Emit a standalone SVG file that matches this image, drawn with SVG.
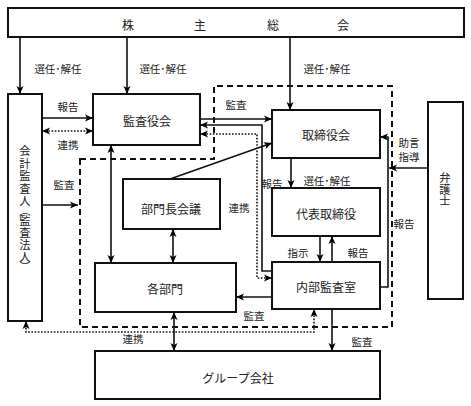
<svg xmlns="http://www.w3.org/2000/svg" width="471" height="406" viewBox="0 0 471 406">
<defs>
<marker id="ah" markerUnits="userSpaceOnUse" markerWidth="9" markerHeight="8" refX="8" refY="4" orient="auto-start-reverse">
<path d="M0,0.5 L8,4 L0,7.5 L2,4 z" fill="#000"/>
</marker>
<style>
.box{fill:#fff;stroke:#111;stroke-width:2}
.t{font-family:"Noto Sans CJK JP","Noto Sans",sans-serif;font-size:12px;fill:#222;text-anchor:middle;dominant-baseline:central}
.l{font-family:"Noto Sans CJK JP","Noto Sans",sans-serif;font-size:10.5px;fill:#222;text-anchor:middle;dominant-baseline:central}
.c{fill:none;stroke:#111;stroke-width:1.6}
.d{fill:none;stroke:#111;stroke-width:1.6;stroke-dasharray:1.6 1.6}
.dash{fill:none;stroke:#111;stroke-width:2;stroke-dasharray:6 4}
</style>
</defs>
<rect width="471" height="406" fill="#fff"/>
<path class="dash" d="M80,159 H214 V86 H392 V327 H80 Z"/>
<g id="shareholders"><rect class="box" x="8" y="8" width="456" height="29"/><text class="t" x="128 200 273 343" y="24">株主総会</text></g>
<g id="auditor"><rect class="box" x="8" y="94" width="34" height="227"/><text class="t" x="25 25 25 25 25 25 25 25 25 25 25" y="150 162.5 175 187.5 199.5 209.5 220 232 244 256 265.5" style="font-size:11.3px">会計監査人︵監査法人︶</text></g>
<g id="kansayakukai"><rect class="box" x="93" y="94" width="107" height="51"/><text class="t" x="147" y="120">監査役会</text></g>
<g id="torishimariyakukai"><rect class="box" x="272" y="110" width="108" height="48"/><text class="t" x="326" y="134">取締役会</text></g>
<g id="bumonchokaigi"><rect class="box" x="123" y="179" width="97" height="50"/><text class="t" x="171" y="208">部門長会議</text></g>
<g id="daihyo"><rect class="box" x="272" y="188" width="108" height="48"/><text class="t" x="326" y="213">代表取締役</text></g>
<g id="kakubumon"><rect class="box" x="95" y="263" width="141" height="49"/><text class="t" x="165" y="288">各部門</text></g>
<g id="naibukansa"><rect class="box" x="272" y="262" width="108" height="47"/><text class="t" x="326" y="286">内部監査室</text></g>
<g id="bengoshi"><rect class="box" x="428" y="102" width="35" height="197"/><text class="t" x="445 445 445" y="177 189 200" style="font-size:11.3px">弁護士</text></g>
<g id="group"><rect class="box" x="95" y="351" width="285" height="48"/><text class="t" x="238" y="377">グループ会社</text></g>
<g id="connectors">
<path class="c" d="M20,37 V94" marker-end="url(#ah)"/>
<path class="c" d="M127,37 V94" marker-end="url(#ah)"/>
<path class="c" d="M290,37 V110" marker-end="url(#ah)"/>
<path class="c" d="M42,118 H93" marker-end="url(#ah)"/>
<path class="d" d="M42,131 H93" marker-start="url(#ah)" marker-end="url(#ah)"/>
<path class="c" d="M42,205 H78" marker-end="url(#ah)"/>
<path class="c" d="M200,119 H272" marker-end="url(#ah)"/>
<path class="c" d="M272,271 H262 V125 H200" marker-end="url(#ah)"/>
<path class="d" d="M200,134 H257 V278 H272" marker-start="url(#ah)" marker-end="url(#ah)"/>
<path class="c" d="M170,179 L272,143" marker-end="url(#ah)"/>
<path class="c" d="M111,145 V263" marker-start="url(#ah)" marker-end="url(#ah)"/>
<path class="c" d="M173,229 V263" marker-start="url(#ah)" marker-end="url(#ah)"/>
<path class="c" d="M174,312 V351" marker-start="url(#ah)" marker-end="url(#ah)"/>
<path class="c" d="M291,158 V188" marker-end="url(#ah)"/>
<path class="c" d="M320,236 V262" marker-end="url(#ah)"/>
<path class="c" d="M332,262 V236" marker-end="url(#ah)"/>
<path class="c" d="M272,297 H236" marker-end="url(#ah)"/>
<path class="c" d="M332,309 V351" marker-end="url(#ah)"/>
<path class="d" d="M314,309 V332 H26 V321" marker-start="url(#ah)" marker-end="url(#ah)"/>
<path class="c" d="M380,287 H388 V137 H380" marker-end="url(#ah)"/>
<path class="c" d="M428,168 H389" marker-end="url(#ah)"/>
</g>
<g id="labels">
<text class="l" x="58" y="68">選任･解任</text>
<text class="l" x="163" y="68">選任･解任</text>
<text class="l" x="327" y="68">選任･解任</text>
<text class="l" x="68" y="106">報告</text>
<text class="l" x="68" y="144">連携</text>
<text class="l" x="64" y="184">監査</text>
<text class="l" x="236" y="104">監査</text>
<text class="l" x="239" y="207">連携</text>
<text class="l" x="272" y="183">報告</text>
<text class="l" x="327" y="180">選任･解任</text>
<text class="l" x="409" y="142">助言</text>
<text class="l" x="409" y="156">指導</text>
<text class="l" x="404" y="223">報告</text>
<text class="l" x="298" y="252">指示</text>
<text class="l" x="358" y="252">報告</text>
<text class="l" x="254" y="315">監査</text>
<text class="l" x="133" y="338">連携</text>
<text class="l" x="362" y="341">監査</text>
</g>
</svg>
